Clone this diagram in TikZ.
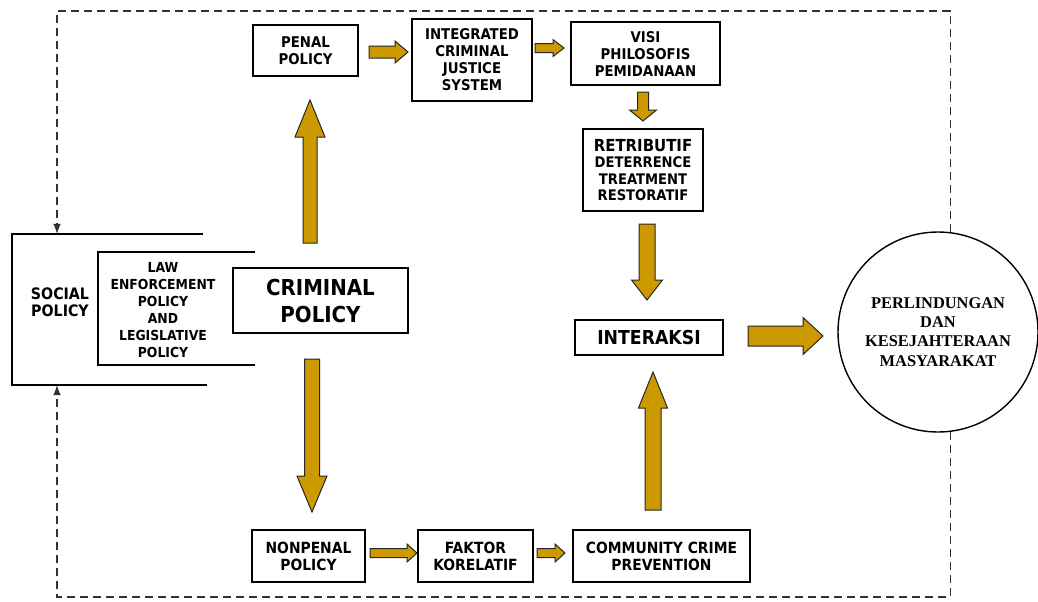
\documentclass[tikz,border=0pt]{standalone}
\usepackage{fontspec}
\newfontfamily\boxfont{DejaVu Sans Condensed}
\newfontfamily\circfont{Liberation Serif}
\usetikzlibrary{calc}

\definecolor{arrowgold}{HTML}{CC9900}
\tikzset{
  box/.style={draw, line width=0.7pt, align=center, inner sep=0pt,
    font=\boxfont\bfseries\fontsize{7.4}{8.5}\selectfont},
  plaintext/.style={align=center, inner sep=0pt},
  fatarrow/.style={fill=arrowgold, draw=black!85, line width=0.5pt, line join=miter},
  loopline/.style={dash pattern=on 4pt off 2.5pt, line width=0.75pt, draw=black!80},
}

% #1 start, #2 tip, #3 half shaft, #4 half head, #5 head length
\newcommand{\fatarrow}[5]{%
  \coordinate (fa-base) at ($(#2)!#5!(#1)$);
  \filldraw[fatarrow] ($(#1)!#3!90:(#2)$) -- ($(fa-base)!#3!90:(#2)$)
    -- ($(fa-base)!#4!90:(#2)$) -- (#2) -- ($(fa-base)!#4!-90:(#2)$)
    -- ($(fa-base)!#3!-90:(#2)$) -- ($(#1)!#3!-90:(#2)$) -- cycle;}

\begin{document}
\begin{tikzpicture}[x=0.5pt,y=-0.5pt]
  \useasboundingbox (0,0) rectangle (1038,601);

  % boxes
  \node[box, minimum width=52.5pt, minimum height=25.5pt] (penal) at (305.5,50.5) {PENAL\\POLICY};
  \node[box, minimum width=60pt, minimum height=41pt] (icjs) at (472,60) {INTEGRATED\\CRIMINAL\\JUSTICE\\SYSTEM};
  \node[box, minimum width=74.5pt, minimum height=31.5pt] (visi) at (645.5,53.5) {VISI\\PHILOSOFIS\\PEMIDANAAN};
  \node[box, minimum width=60pt, minimum height=41pt, font=\boxfont\bfseries\fontsize{7.3}{8.3}\selectfont] (retrib) at (643,170)
    {{\fontsize{8.3}{8.3}\selectfont RETRIBUTIF}\\DETERRENCE\\TREATMENT\\RESTORATIF};
  \node[box, minimum width=87.5pt, minimum height=32.5pt, font=\boxfont\bfseries\fontsize{11}{13.5}\selectfont] (crim) at (320.5,300.5) {CRIMINAL\\POLICY};
  \node[box, minimum width=74pt, minimum height=17.5pt, font=\boxfont\bfseries\fontsize{9.6}{11}\selectfont] (inter) at (649,337.5) {INTERAKSI};
  \node[box, minimum width=56.5pt, minimum height=26pt, font=\boxfont\bfseries\fontsize{7.7}{8.6}\selectfont] (nonpenal) at (308.5,556) {NONPENAL\\POLICY};
  \node[box, minimum width=57.5pt, minimum height=26pt, font=\boxfont\bfseries\fontsize{7.7}{8.6}\selectfont] (faktor) at (475.5,556) {FAKTOR\\KORELATIF};
  \node[box, minimum width=88.5pt, minimum height=26pt, font=\boxfont\bfseries\fontsize{7.7}{8.6}\selectfont] (comm) at (661.5,556) {COMMUNITY CRIME\\PREVENTION};
  \node[draw, circle, line width=0.7pt, minimum size=100pt, align=center, inner sep=0pt,
    font=\circfont\bfseries\fontsize{8.2}{9.6}\selectfont] (circ) at (938,332)
    {PERLINDUNGAN\\DAN\\KESEJAHTERAAN\\MASYARAKAT};

  % social policy brackets
  \node[plaintext, font=\boxfont\bfseries\fontsize{7.9}{8.4}\selectfont] (social) at (60,302) {SOCIAL\\POLICY};
  \node[plaintext, font=\boxfont\bfseries\fontsize{6.9}{8.5}\selectfont] (law) at (163,310)
    {LAW\\ENFORCEMENT\\POLICY\\AND\\LEGISLATIVE\\POLICY};
  \draw[line width=0.7pt] (203,234) -- (12,234) -- (12,385) -- (207,385);
  \draw[line width=0.7pt] (255,252) -- (98,252) -- (98,365) -- (255,365);

  % dashed feedback loop
  \coordinate (tl) at (57,11);
  \coordinate (bl) at (57,597);
  \coordinate (soc-top) at (57,234);
  \coordinate (soc-bot) at (57,385);
  \draw[loopline,-latex] (circ.83) |- (tl) -- (soc-top);
  \draw[loopline,-latex] (circ.-83) |- (bl) -- (soc-bot);

  % fat arrows
  \coordinate (a1s) at (310,243);  \coordinate (a1e) at (310,100);
  \coordinate (a2s) at (312,359);  \coordinate (a2e) at (312,512);
  \coordinate (a3s) at (369,52);   \coordinate (a3e) at (408,52);
  \coordinate (a4s) at (535,48);   \coordinate (a4e) at (564,48);
  \coordinate (a5s) at (643,92);   \coordinate (a5e) at (643,121);
  \coordinate (a6s) at (647,224);  \coordinate (a6e) at (647,300);
  \coordinate (a7s) at (653,510);  \coordinate (a7e) at (653,372);
  \coordinate (a8s) at (748,336);  \coordinate (a8e) at (823,336);
  \coordinate (a9s) at (370,553);  \coordinate (a9e) at (417,553);
  \coordinate (a10s) at (537,553); \coordinate (a10e) at (565,553);
  \fatarrow{a1s}{a1e}{3.5pt}{7.5pt}{18.5pt}
  \fatarrow{a2s}{a2e}{3.75pt}{7.5pt}{18pt}
  \fatarrow{a3s}{a3e}{3pt}{5.5pt}{6.5pt}
  \fatarrow{a4s}{a4e}{2.25pt}{4.25pt}{5.5pt}
  \fatarrow{a5s}{a5e}{2.75pt}{6.75pt}{5.5pt}
  \fatarrow{a6s}{a6e}{4pt}{7.75pt}{10pt}
  \fatarrow{a7s}{a7e}{4pt}{7.25pt}{18pt}
  \fatarrow{a8s}{a8e}{5pt}{9.25pt}{10pt}
  \fatarrow{a9s}{a9e}{2.25pt}{4.5pt}{5pt}
  \fatarrow{a10s}{a10e}{2.25pt}{4.5pt}{5pt}
\end{tikzpicture}
\end{document}
